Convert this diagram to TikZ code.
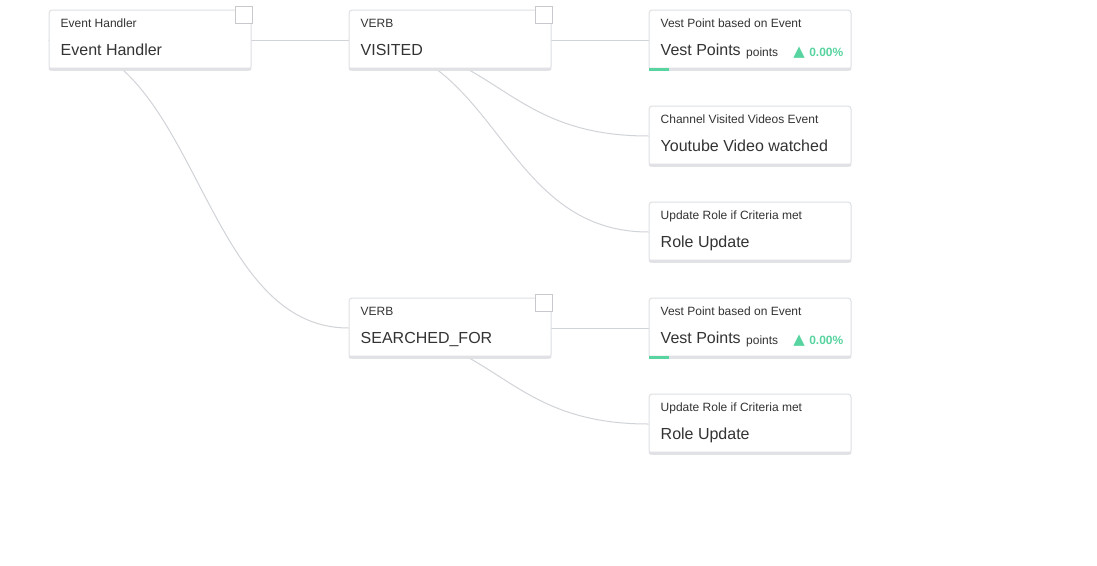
\documentclass[tikz,border=0pt]{standalone}
\usepackage{fontspec}
\setmainfont{Liberation Sans}
\newfontfamily\symfont{DejaVu Sans}
\usetikzlibrary{backgrounds}
\definecolor{cardline}{RGB}{220,223,227}
\definecolor{barcol}{RGB}{224,225,228}
\definecolor{linkcol}{RGB}{208,211,215}
\definecolor{sqcol}{RGB}{200,201,204}
\definecolor{txtcol}{RGB}{51,51,51}
\definecolor{upcol}{RGB}{88,212,160}
\tikzset{
	card/.style={draw=cardline, line width=1pt, fill=white, rounded corners=3pt, minimum width=202pt, minimum height=60pt, inner sep=0pt},
	cardtitle/.style={anchor=base west, inner sep=0pt, text=txtcol, font=\fontsize{12}{14}\selectfont},
	cardmain/.style={anchor=base west, inner sep=0pt, text=txtcol, font=\fontsize{16}{19}\selectfont},
	unit/.style={anchor=base west, inner sep=0pt, text=txtcol, font=\fontsize{12}{14}\selectfont},
	updown/.style={anchor=base east, inner sep=0pt, text=upcol, font=\fontsize{12}{14}\selectfont\bfseries},
	arrowup/.style={anchor=base east, inner sep=0pt, text=upcol, font=\fontsize{15}{14}\symfont},
	link/.style={draw=linkcol, line width=1pt},
	bar/.style={fill=barcol, rounded corners=1.5pt},
	fillbar/.style={fill=upcol},
	corner/.style={draw=sqcol, line width=1.5pt, fill=white}
}
\begin{document}
\begin{tikzpicture}[x=1pt, y=-1pt]
	\useasboundingbox (0,0) rectangle (1097,565);
	% cards
	\node[card] (eh) at (150,40) {};
	\node[card] (vis) at (450,40) {};
	\node[card] (vpa) at (750,40) {};
	\node[card] (yt) at (750,136) {};
	\node[card] (rua) at (750,232) {};
	\node[card] (sf) at (450,328) {};
	\node[card] (vpb) at (750,328) {};
	\node[card] (rub) at (750,424) {};
	% bottom bars
	\foreach \c in {eh,vis,vpa,yt,rua,sf,vpb,rub}
		\fill[bar] (\c.south west) rectangle ([yshift=3pt]\c.south east);
	\fill[fillbar] (vpa.south west) rectangle ([xshift=20pt,yshift=3pt]vpa.south west);
	\fill[fillbar] (vpb.south west) rectangle ([xshift=20pt,yshift=3pt]vpb.south west);
	% texts
	\node[cardtitle] (eh-t) at ([xshift=12pt,yshift=-18pt]eh.north west) {Event Handler};
	\node[cardmain] (eh-m) at ([xshift=12pt,yshift=-46pt]eh.north west) {Event Handler};
	\node[cardtitle] (vis-t) at ([xshift=12pt,yshift=-18pt]vis.north west) {VERB};
	\node[cardmain] (vis-m) at ([xshift=12pt,yshift=-46pt]vis.north west) {VISITED};
	\node[cardtitle] (vpa-t) at ([xshift=12pt,yshift=-18pt]vpa.north west) {Vest Point based on Event};
	\node[cardmain] (vpa-m) at ([xshift=12pt,yshift=-46pt]vpa.north west) {Vest Points};
	\node[unit] (vpa-u) at ([xshift=5pt,yshift=-1pt]vpa-m.base east) {points};
	\node[updown] (vpa-p) at ([xshift=-8pt,yshift=-1pt]vpa.east |- vpa-m.base) {0.00\%};
	\node[arrowup] (vpa-a) at ([xshift=-4pt]vpa-p.base west) {▲};
	\node[cardtitle] (yt-t) at ([xshift=12pt,yshift=-18pt]yt.north west) {Channel Visited Videos Event};
	\node[cardmain] (yt-m) at ([xshift=12pt,yshift=-46pt]yt.north west) {Youtube Video watched};
	\node[cardtitle] (rua-t) at ([xshift=12pt,yshift=-18pt]rua.north west) {Update Role if Criteria met};
	\node[cardmain] (rua-m) at ([xshift=12pt,yshift=-46pt]rua.north west) {Role Update};
	\node[cardtitle] (sf-t) at ([xshift=12pt,yshift=-18pt]sf.north west) {VERB};
	\node[cardmain] (sf-m) at ([xshift=12pt,yshift=-46pt]sf.north west) {SEARCHED\_FOR};
	\node[cardtitle] (vpb-t) at ([xshift=12pt,yshift=-18pt]vpb.north west) {Vest Point based on Event};
	\node[cardmain] (vpb-m) at ([xshift=12pt,yshift=-46pt]vpb.north west) {Vest Points};
	\node[unit] (vpb-u) at ([xshift=5pt,yshift=-1pt]vpb-m.base east) {points};
	\node[updown] (vpb-p) at ([xshift=-8pt,yshift=-1pt]vpb.east |- vpb-m.base) {0.00\%};
	\node[arrowup] (vpb-a) at ([xshift=-4pt]vpb-p.base west) {▲};
	\node[cardtitle] (rub-t) at ([xshift=12pt,yshift=-18pt]rub.north west) {Update Role if Criteria met};
	\node[cardmain] (rub-m) at ([xshift=12pt,yshift=-46pt]rub.north west) {Role Update};
	% collapse boxes
	\draw[corner] ([xshift=-16pt,yshift=3pt]eh.north east) rectangle ++(17,17);
	\draw[corner] ([xshift=-16pt,yshift=3pt]vis.north east) rectangle ++(17,17);
	\draw[corner] ([xshift=-16pt,yshift=3pt]sf.north east) rectangle ++(17,17);
	% links
	\begin{scope}[on background layer]
		\draw[link] (eh.west) -- (vis.west);
		\draw[link] (eh.west) .. controls +(150,0) and +(-150,0) .. (sf.west);
		\draw[link] (vis.west) -- (vpa.west);
		\draw[link] (vis.west) .. controls +(150,0) and +(-150,0) .. (yt.west);
		\draw[link] (vis.west) .. controls +(150,0) and +(-150,0) .. (rua.west);
		\draw[link] (sf.west) -- (vpb.west);
		\draw[link] (sf.west) .. controls +(150,0) and +(-150,0) .. (rub.west);
	\end{scope}
\end{tikzpicture}
\end{document}
